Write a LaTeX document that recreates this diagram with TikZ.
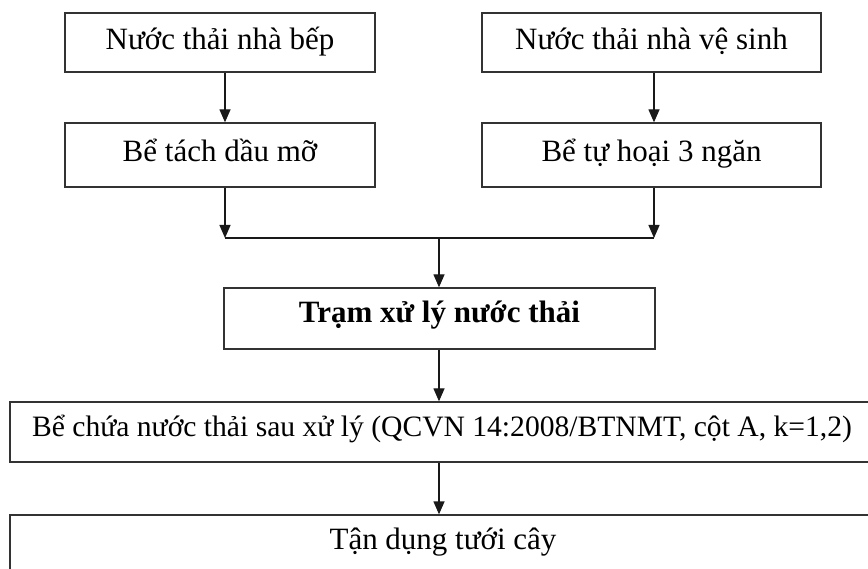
\documentclass[tikz,border=0pt]{standalone}
\usepackage{fontspec}
\setmainfont{Liberation Serif}
\usetikzlibrary{arrows.meta}
\begin{document}
\begin{tikzpicture}[x=1pt,y=-1pt,
  box/.style={draw=black!80, line width=1.3pt, inner sep=0pt, text height=22pt, text depth=8pt},
  lowbox/.style={box, text height=20pt, text depth=12pt},
  arr/.style={draw=black!90, line width=1.3pt, -{Triangle[width=11pt,length=13pt]}},
  ln/.style={draw=black!90, line width=1.3pt},
  font=\fontsize{31}{37}\selectfont]
\clip (0,0) rectangle (868,569);
\fill[white] (0,0) rectangle (868,569);
% columns
\coordinate (xl) at (225,0);
\coordinate (xr) at (654,0);
\coordinate (xm) at (439,0);
% boxes
\node[box, minimum width=310pt, minimum height=59pt] (a1) at (220,42.5) {Nước thải nhà bếp};
\node[box, minimum width=339pt, minimum height=59pt] (b1) at (651.5,42.5) {Nước thải nhà vệ sinh};
\node[box, minimum width=310pt, minimum height=64pt] (a2) at (220,155) {Bể tách dầu mỡ};
\node[box, minimum width=339pt, minimum height=64pt] (b2) at (651.5,155) {Bể tự hoại 3 ngăn};
\node[lowbox, minimum width=431pt, minimum height=61pt, font=\fontsize{31}{37}\selectfont\bfseries] (t) at (439.5,318.5) {Trạm xử lý nước thải};
\node[lowbox, minimum width=870pt, minimum height=60pt, font=\fontsize{29.6}{36}\selectfont] (c) at (445,432) {\hspace*{-6pt}Bể chứa nước thải sau xử lý (QCVN 14:2008/BTNMT, cột A, k=1,2)};
\node[box, text height=20pt, text depth=12pt, minimum width=870pt, minimum height=60pt] (d) at (445,545) {\hspace*{-4pt}Tận dụng tưới cây};
% junction
\coordinate (jl) at (225,238);
\coordinate (jr) at (654,238);
\coordinate (jm) at (439,238);
% connectors
\draw[arr] (a1.south -| xl) -- (a2.north -| xl);
\draw[arr] (b1.south -| xr) -- (b2.north -| xr);
\draw[arr] (a2.south -| xl) -- (jl);
\draw[arr] (b2.south -| xr) -- (jr);
\draw[ln] (jl) -- (jr);
\draw[arr] (jm) -- (t.north -| xm);
\draw[arr] (t.south -| xm) -- (c.north -| xm);
\draw[arr] (c.south -| xm) -- (d.north -| xm);
\end{tikzpicture}
\end{document}
